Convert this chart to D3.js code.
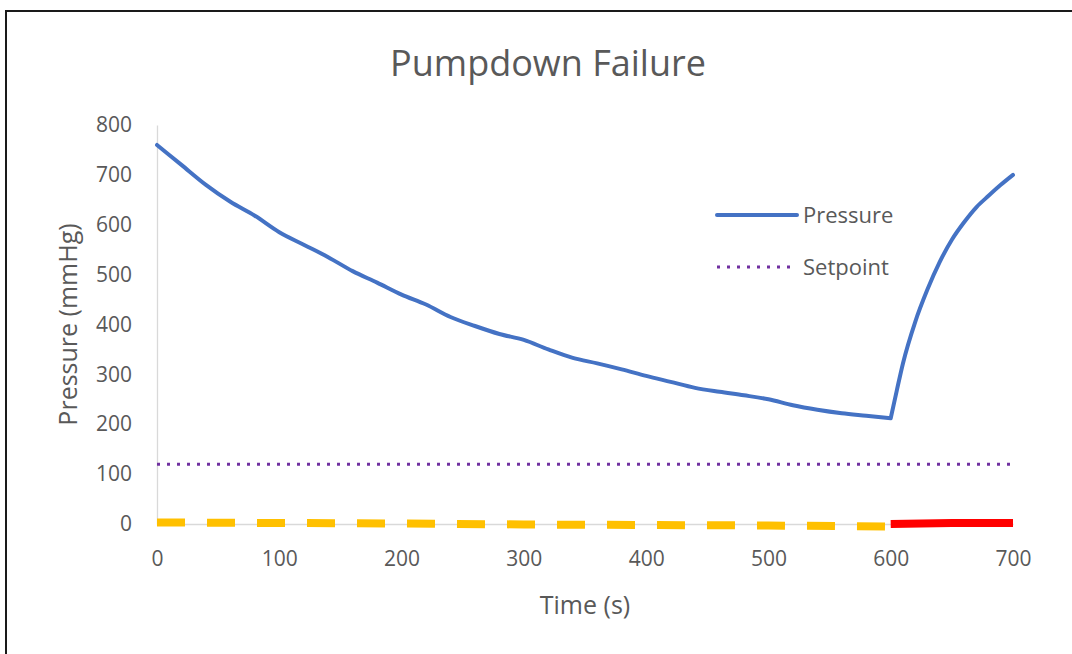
<!DOCTYPE html>
<html>
<head>
<meta charset="utf-8">
<script src="https://cdn.jsdelivr.net/npm/d3@7"></script>
<style>
  html, body { margin: 0; background: #fff; overflow: hidden; }
  text { font-family: "Open Sans", "Noto Sans", sans-serif; fill: #595959; }
</style>
</head>
<body>
<svg id="vis"></svg>
<script>
// data
const pressureTime = [0, 20, 40, 60, 80, 100, 120, 140, 160, 180, 200, 220, 240, 260, 280, 300,
  320, 340, 360, 380, 400, 420, 440, 460, 480, 500, 520, 540, 560, 580, 600,
  605, 610, 620, 630, 640, 650, 660, 670, 680, 690, 700];
const pressure = [760, 720, 680, 646, 618, 585, 560, 535, 507, 484, 460, 440, 415, 397, 381, 369,
  350, 333, 322, 310, 297, 285, 273, 265, 258, 250, 238, 229, 222, 217, 212,
  268, 322, 405, 470, 525, 570, 605, 635, 658, 680, 700];
const failStart = 600; // pump fails here, pressure climbs back
const setpointTime = [0, 700];
const setpoint = [120, 120];
// valve / status traces along zero
const okTime = [0, 100, 200, 300, 400, 500, 600];
const okVal = [3, 2, 1, -1, -2, -3, -5];
const failTime = [600, 650, 700];
const failVal = [0, 2, 2];

const xTicks = [0, 100, 200, 300, 400, 500, 600, 700];
const yTicks = [0, 100, 200, 300, 400, 500, 600, 700, 800];

const W = 1072, H = 654;
const svg = d3.select("#vis").attr("width", W).attr("height", H).style("display", "block");

svg.append("rect").attr("width", W).attr("height", H).attr("fill", "#fff");
// outer frame, only top and left edges show in the reference
svg.append("path")
  .attr("d", "M6," + H + "V11H" + W)
  .attr("fill", "none").attr("stroke", "#1a1a1a").attr("stroke-width", 2);

const x = d3.scaleLinear().domain([0, 700]).range([157, 1013]);
const y = d3.scaleLinear().domain([0, 800]).range([524, 125]);

// title
svg.append("text")
  .attr("x", 548).attr("y", 76)
  .attr("text-anchor", "middle")
  .style("font-size", "36px")
  .text("Pumpdown Failure");

// axes
const xAxis = svg.append("g")
  .attr("transform", "translate(0," + y(0) + ")")
  .call(d3.axisBottom(x).tickValues(xTicks).tickSize(0).tickPadding(27));
const yAxis = svg.append("g")
  .attr("transform", "translate(" + x(0) + ",0)")
  .call(d3.axisLeft(y).tickValues(yTicks).tickSize(0).tickPadding(25));
[xAxis, yAxis].forEach(g => {
  g.select(".domain").attr("stroke", "#d9d9d9").attr("stroke-width", 1.3);
  g.selectAll("text").style("font-size", "21px").attr("fill", "#595959")
    .style("font-family", "'Open Sans', 'Noto Sans', sans-serif");
});

svg.append("text")
  .attr("x", x(350)).attr("y", 614)
  .attr("text-anchor", "middle")
  .style("font-size", "25px")
  .text("Time (s)");
svg.append("text")
  .attr("transform", "translate(77," + y(400) + ") rotate(-90)")
  .attr("text-anchor", "middle")
  .style("font-size", "25px")
  .text("Pressure (mmHg)");

const line = d3.line().x(d => x(d[0])).y(d => y(d[1]));
const smooth = d3.line().x(d => x(d[0])).y(d => y(d[1])).curve(d3.curveMonotoneX);
const zip = (a, b) => a.map((v, i) => [v, b[i]]);

// setpoint
svg.append("path")
  .datum(zip(setpointTime, setpoint))
  .attr("d", line)
  .attr("fill", "none")
  .attr("stroke", "#7030a0")
  .attr("stroke-width", 3)
  .attr("stroke-dasharray", "3,7");

// yellow dashed status
svg.append("path")
  .datum(zip(okTime, okVal))
  .attr("d", line)
  .attr("fill", "none")
  .attr("stroke", "#ffc000")
  .attr("stroke-width", 8)
  .attr("stroke-dasharray", "28,22");

// red failure segment
svg.append("path")
  .datum(zip(failTime, failVal))
  .attr("d", line)
  .attr("fill", "none")
  .attr("stroke", "#ff0000")
  .attr("stroke-width", 8);

// pressure: smoothed on each side of the failure so the corner stays sharp
const pData = zip(pressureTime, pressure);
const pDown = pData.filter(d => d[0] <= failStart);
const pUp = pData.filter(d => d[0] >= failStart);
svg.append("path")
  .attr("d", smooth(pDown) + smooth(pUp))
  .attr("fill", "none")
  .attr("stroke", "#4472c4")
  .attr("stroke-width", 4)
  .attr("stroke-linejoin", "round")
  .attr("stroke-linecap", "round");

// legend
const legend = svg.append("g");
legend.append("line")
  .attr("x1", 717).attr("x2", 797).attr("y1", 215).attr("y2", 215)
  .attr("stroke", "#4472c4").attr("stroke-width", 4).attr("stroke-linecap", "round");
legend.append("text").attr("x", 803).attr("y", 223).style("font-size", "22px").text("Pressure");
legend.append("line")
  .attr("x1", 717).attr("x2", 790).attr("y1", 267).attr("y2", 267)
  .attr("stroke", "#7030a0").attr("stroke-width", 3).attr("stroke-dasharray", "3,7");
legend.append("text").attr("x", 803).attr("y", 275).style("font-size", "22px").text("Setpoint");
</script>
</body>
</html>
